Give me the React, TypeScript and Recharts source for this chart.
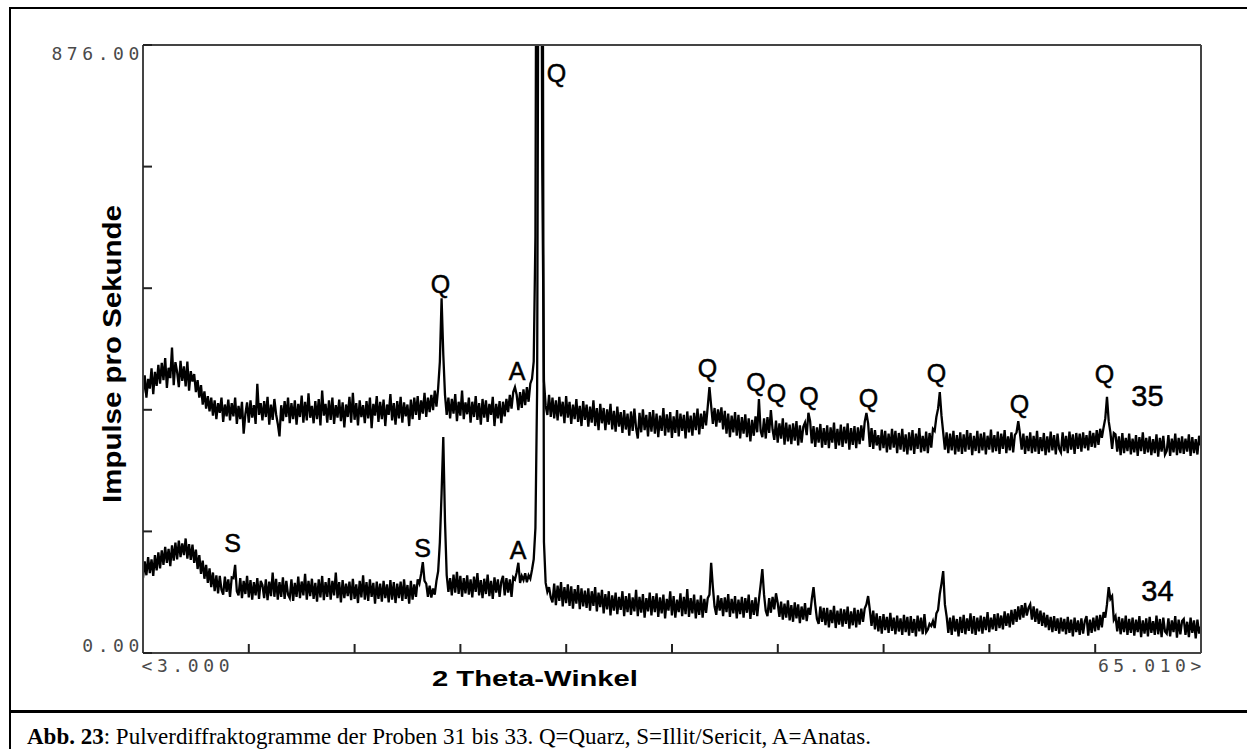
import React from 'react';
import { LineChart, Line, XAxis, YAxis, ReferenceDot } from 'recharts';

// 2-theta grid of the scan (degrees): 3.0 ... 65.0 in 0.1 steps
const X_START = 3.0;
const X_STEP = 0.1;

// Sample 35 (upper trace), counts per second; one row per degree
const sample35 = [
  374, 400, 368, 395, 381, 410, 373, 405, 385, 415,
  388, 418, 393, 425, 382, 411, 396, 440, 386, 419,
  405, 383, 421, 392, 413, 384, 420, 378, 406, 391,
  402, 376, 393, 368, 386, 358, 377, 352, 370, 348,
  368, 342, 364, 337, 360, 346, 368, 333, 358, 341,
  365, 335, 360, 341, 368, 330, 356, 337, 362, 316,
  344, 361, 332, 364, 339, 357, 330, 388, 343, 360,
  335, 363, 340, 369, 329, 358, 336, 366, 344, 330,
  312, 357, 334, 363, 340, 368, 331, 360, 337, 364,
  329, 359, 340, 371, 332, 362, 335, 374, 339, 356,
  331, 363, 337, 366, 328, 378, 342, 359, 332, 364,
  336, 368, 330, 357, 339, 365, 334, 361, 325, 358,
  340, 369, 332, 375, 336, 360, 328, 364, 340, 357,
  331, 363, 338, 368, 324, 359, 342, 370, 333, 362,
  337, 365, 327, 358, 343, 373, 335, 360, 329, 363,
  338, 369, 332, 361, 341, 358, 327, 365, 337, 368,
  343, 370, 336, 364, 345, 375, 340, 368, 347, 372,
  350, 378, 355, 382, 420, 511, 430, 372, 343, 368,
  338, 366, 345, 373, 334, 362, 342, 378, 337, 361,
  344, 368, 332, 362, 340, 370, 336, 360, 329, 366,
  339, 364, 333, 359, 343, 369, 327, 359, 338, 363,
  331, 362, 341, 366, 347, 372, 352, 376, 383, 372,
  350, 376, 353, 380, 357, 383, 362, 388, 395, 420,
  600, 1500, 1500, 1500, 700, 392, 356, 343, 372, 340,
  368, 338, 364, 335, 369, 341, 362, 331, 370, 339,
  362, 330, 358, 337, 366, 333, 356, 327, 363, 336,
  358, 326, 355, 332, 364, 327, 353, 321, 359, 331,
  353, 321, 351, 329, 359, 322, 349, 319, 355, 326,
  347, 317, 350, 322, 345, 313, 348, 320, 352, 324,
  309, 346, 318, 351, 321, 343, 312, 347, 319, 350,
  316, 345, 311, 342, 320, 353, 313, 344, 318, 347,
  310, 341, 317, 350, 312, 345, 320, 343, 309, 348,
  318, 342, 313, 346, 321, 352, 315, 345, 323, 349,
  328, 355, 383, 356, 330, 353, 326, 351, 332, 354,
  322, 349, 316, 345, 311, 342, 318, 347, 313, 343,
  309, 340, 316, 344, 311, 338, 305, 336, 313, 341,
  318, 366, 320, 311, 338, 309, 340, 317, 350, 322,
  307, 335, 303, 331, 309, 338, 300, 332, 305, 329,
  301, 331, 306, 334, 299, 328, 303, 326, 332, 314,
  346, 334, 302, 327, 297, 325, 303, 330, 296, 324,
  300, 328, 295, 325, 303, 332, 294, 323, 299, 329,
  297, 326, 302, 331, 293, 324, 300, 327, 295, 325,
  301, 328, 306, 333, 346, 331, 297, 324, 294, 321,
  299, 314, 292, 322, 295, 320, 289, 316, 293, 323,
  296, 320, 288, 317, 293, 323, 290, 315, 286, 318,
  292, 321, 287, 316, 294, 324, 289, 313, 291, 319,
  288, 317, 296, 323, 320, 340, 352, 376, 342, 318,
  293, 318, 288, 316, 292, 320, 286, 314, 290, 318,
  287, 315, 290, 321, 293, 317, 285, 313, 291, 320,
  288, 316, 292, 318, 286, 313, 293, 322, 289, 314,
  291, 319, 287, 316, 294, 321, 288, 312, 292, 318,
  289, 314, 318, 334, 316, 293, 316, 287, 313, 291,
  318, 288, 313, 290, 320, 287, 311, 291, 317, 285,
  312, 289, 319, 292, 314, 286, 316, 294, 289, 318,
  291, 313, 288, 319, 293, 315, 287, 317, 294, 316,
  290, 318, 295, 314, 292, 320, 297, 317, 296, 321,
  300, 323, 310, 325, 338, 369, 334, 318, 294, 317,
  315, 290, 312, 285, 317, 288, 310, 291, 316, 286,
  309, 289, 314, 284, 311, 291, 318, 287, 310, 289,
  312, 285, 308, 288, 315, 283, 310, 290, 313, 286,
  291, 314, 284, 309, 289, 316, 285, 310, 288, 312,
  287, 309, 290, 315, 284, 311, 288, 308, 286, 313,
  299,
];

// Sample 34 (lower trace), counts per second; one row per degree
const sample34 = [
  108, 132, 112, 138, 115, 135, 111, 141, 119, 145,
  122, 148, 127, 153, 130, 150, 125, 155, 133, 159,
  135, 162, 138, 158, 141, 165, 136, 157, 134, 156,
  130, 149, 121, 141, 114, 133, 107, 127, 101, 122,
  95, 116, 89, 112, 86, 111, 91, 84, 110, 88,
  106, 81, 109, 108, 127, 89, 83, 108, 79, 104,
  85, 111, 80, 105, 77, 102, 83, 108, 78, 104,
  98, 79, 106, 76, 103, 82, 116, 81, 107, 77,
  102, 81, 109, 78, 104, 84, 79, 106, 75, 101,
  81, 110, 79, 103, 83, 114, 77, 104, 82, 107,
  78, 101, 74, 106, 80, 111, 76, 102, 81, 108,
  77, 104, 83, 116, 79, 102, 73, 105, 79, 100,
  82, 103, 76, 107, 78, 99, 72, 104, 80, 112,
  77, 102, 75, 106, 81, 101, 71, 103, 78, 100,
  74, 104, 79, 99, 73, 105, 77, 102, 72, 100,
  79, 103, 75, 106, 78, 98, 71, 104, 77, 99,
  81, 106, 100, 114, 131, 104, 100, 81, 97, 80,
  93, 84, 104, 118, 160, 230, 311, 190, 112, 88,
  108, 83, 113, 87, 117, 85, 111, 81, 108, 86,
  112, 84, 106, 80, 110, 88, 115, 83, 105, 79,
  107, 85, 113, 82, 104, 78, 109, 87, 106, 81,
  103, 111, 83, 108, 87, 106, 81, 109, 106, 116,
  130, 101, 111, 105, 115, 102, 112, 107, 120, 135,
  180, 380, 1300, 1500, 1400, 160, 101, 88, 95, 80,
  73, 100, 69, 97, 75, 102, 67, 95, 72, 99,
  68, 96, 64, 92, 71, 98, 63, 93, 67, 90,
  65, 93, 61, 89, 68, 95, 60, 87, 66, 91,
  57, 85, 63, 89, 54, 83, 61, 87, 56, 81,
  62, 89, 53, 82, 59, 86, 55, 80, 60, 91,
  53, 81, 58, 85, 51, 79, 60, 87, 54, 82,
  59, 86, 52, 80, 57, 84, 50, 78, 61, 89,
  54, 82, 51, 77, 59, 86, 53, 81, 56, 92,
  52, 79, 57, 84, 50, 77, 55, 83, 51, 78,
  58, 79, 84, 130, 95, 67, 55, 83, 61, 79,
  53, 80, 59, 85, 52, 78, 57, 82, 50, 77,
  56, 81, 51, 79, 58, 84, 49, 76, 55, 80,
  53, 77, 98, 121, 84, 61, 53, 79, 58, 81,
  63, 86, 72, 52, 74, 48, 71, 51, 76, 47,
  69, 45, 73, 50, 70, 43, 67, 48, 72, 46,
  65, 55, 78, 95, 70, 49, 42, 67, 45, 65,
  40, 65, 37, 62, 43, 68, 36, 61, 41, 64,
  38, 63, 42, 67, 35, 60, 40, 65, 37, 62,
  41, 64, 45, 64, 70, 82, 62, 39, 61, 34,
  57, 31, 53, 28, 56, 33, 52, 29, 58, 32,
  51, 27, 54, 31, 50, 26, 55, 30, 52, 25,
  53, 29, 49, 24, 54, 31, 51, 27, 56, 30,
  34, 42, 39, 46, 36, 57, 62, 85, 100, 118,
  70, 53, 29, 51, 26, 54, 31, 49, 24, 52,
  29, 55, 27, 50, 32, 57, 28, 53, 26, 51,
  31, 54, 28, 52, 33, 59, 30, 51, 34, 56,
  32, 57, 36, 54, 34, 60, 39, 57, 37, 62,
  41, 63, 45, 67, 48, 69, 51, 72, 54, 65,
  70, 48, 67, 45, 64, 42, 61, 39, 58, 37,
  55, 33, 52, 30, 53, 32, 50, 28, 51, 31,
  49, 27, 52, 29, 48, 24, 51, 30, 47, 26,
  50, 28, 46, 53, 25, 48, 29, 51, 31, 54,
  33, 55, 37, 59, 51, 70, 95, 78, 82, 48,
  53, 31, 52, 27, 50, 30, 54, 26, 49, 29,
  51, 25, 48, 30, 53, 23, 47, 28, 50, 24,
  52, 29, 46, 26, 54, 27, 49, 23, 51, 31,
  28, 50, 24, 47, 30, 53, 22, 48, 27, 46,
  49, 26, 45, 23, 51, 29, 47, 21, 48, 28,
  38,
];

const X_MIN = 3.0;
const X_MAX = 65.01;
const Y_MIN = 0;
const Y_MAX = 876;
const xTicks = [3, 9.201, 15.402, 21.603, 27.804, 34.005, 40.206, 46.407, 52.608, 58.809, 65.01];
const yTicks = [0, 175.2, 350.4, 525.6, 700.8, 876];
const xEndLabels = ['<3.000', '65.010>'];
const yEndLabels = ['0.00', '876.00'];

// Peak annotations (2-theta, cps, text)
const peakLabels35 = [
  { x: 20.44, y: 532, t: 'Q' },
  { x: 24.92, y: 406, t: 'A' },
  { x: 27.24, y: 836, t: 'Q' },
  { x: 36.09, y: 410, t: 'Q' },
  { x: 38.93, y: 391, t: 'Q' },
  { x: 40.13, y: 375, t: 'Q' },
  { x: 42.03, y: 370, t: 'Q' },
  { x: 45.52, y: 367, t: 'Q' },
  { x: 49.51, y: 403, t: 'Q' },
  { x: 54.37, y: 359, t: 'Q' },
  { x: 59.35, y: 402, t: 'Q' },
];
const peakLabels34 = [
  { x: 8.25, y: 158, t: 'S' },
  { x: 19.38, y: 152, t: 'S' },
  { x: 24.98, y: 149, t: 'A' },
];
const seriesNames = [
  { x: 61.87, y: 370, t: '35' },
  { x: 62.46, y: 89, t: '34' },
];

const data = sample35.map((v, i) => ({
  deg: Math.round((X_START + i * X_STEP) * 100) / 100,
  s35: v,
  s34: sample34[i],
}));

const monoFont = "'DejaVu Sans Mono', monospace";
const sansFont = "'Liberation Sans', Arial, sans-serif";
const tickTextStyle = { fontFamily: monoFont, fontSize: 18, letterSpacing: 4.6, fill: '#4a4a4a' };

const renderBottomTick = (props: any) => {
  const { x, y, payload } = props;
  const base = y + 11;
  if (payload.value === X_MIN) {
    return <text x={x - 1.5} y={base + 19} {...tickTextStyle} textAnchor="start">{xEndLabels[0]}</text>;
  }
  if (payload.value === X_MAX) {
    return <text x={x + 5} y={base + 19} {...tickTextStyle} textAnchor="end">{xEndLabels[1]}</text>;
  }
  return <g />;
};

const renderLeftTick = (props: any) => {
  const { x, y, payload } = props;
  const left = x - 11;
  if (payload.value === Y_MIN) {
    return <text x={left + 1} y={y - 1} {...tickTextStyle} textAnchor="end">{yEndLabels[0]}</text>;
  }
  if (payload.value === Y_MAX) {
    return <text x={left + 1} y={y + 14.5} {...tickTextStyle} textAnchor="end">{yEndLabels[1]}</text>;
  }
  return <g />;
};

const makeLabel = (t: string, size: number) => (p: any) => (
  <text x={p.cx} y={p.cy} fontFamily={sansFont} fontSize={size} fill="#000" stroke="#000" strokeWidth={0.5}
    textAnchor="middle" dominantBaseline="central">
    {t}
  </text>
);

export default function App() {
  const axisLine = { stroke: '#444', strokeWidth: 2 };
  const tickLine = { stroke: '#222', strokeWidth: 2 };
  return (
    <div style={{ position: 'absolute', left: 0, top: 0, width: 1247, height: 749, background: '#fff', overflow: 'hidden' }}>
      <LineChart
        width={1247}
        height={749}
        data={data}
        margin={{ top: 45, right: 46, bottom: 96, left: 143 }}
        style={{ position: 'absolute', left: 0, top: 0 }}
      >
        <XAxis xAxisId="b" dataKey="deg" type="number" domain={[X_MIN, X_MAX]} ticks={xTicks} interval={0}
          orientation="bottom" mirror tickSize={9} axisLine={axisLine} tickLine={tickLine} tick={renderBottomTick} allowDataOverflow />
        <XAxis xAxisId="t" dataKey="deg" type="number" domain={[X_MIN, X_MAX]} ticks={xTicks} interval={0}
          orientation="top" mirror tickSize={9} axisLine={axisLine} tickLine={tickLine} tick={false} allowDataOverflow />
        <YAxis yAxisId="l" type="number" domain={[Y_MIN, Y_MAX]} ticks={yTicks} interval={0}
          orientation="left" mirror tickSize={9} axisLine={axisLine} tickLine={tickLine} tick={renderLeftTick} allowDataOverflow />
        <YAxis yAxisId="r" type="number" domain={[Y_MIN, Y_MAX]} ticks={yTicks} interval={0}
          orientation="right" mirror tickSize={9} axisLine={axisLine} tickLine={tickLine} tick={false} allowDataOverflow />
        <Line xAxisId="b" yAxisId="l" type="linear" dataKey="s34" stroke="#000" strokeWidth={2.3} dot={false} isAnimationActive={false} />
        <Line xAxisId="b" yAxisId="l" type="linear" dataKey="s35" stroke="#000" strokeWidth={2.3} dot={false} isAnimationActive={false} />
        {[...peakLabels35, ...peakLabels34].map((l, i) => (
          <ReferenceDot key={'p' + i} xAxisId="b" yAxisId="l" x={l.x} y={l.y} r={0} ifOverflow="visible" shape={makeLabel(l.t, 25)} />
        ))}
        {seriesNames.map((l, i) => (
          <ReferenceDot key={'s' + i} xAxisId="b" yAxisId="l" x={l.x} y={l.y} r={0} ifOverflow="visible" shape={makeLabel(l.t, 29)} />
        ))}
      </LineChart>
      <svg width={1247} height={749} style={{ position: 'absolute', left: 0, top: 0, pointerEvents: 'none' }}>
        <line x1={10} y1={8} x2={1247} y2={8} stroke="#000" strokeWidth={2} />
        <line x1={10} y1={7} x2={10} y2={749} stroke="#000" strokeWidth={2} />
        <line x1={9} y1={711.5} x2={1247} y2={711.5} stroke="#000" strokeWidth={3} />
        <text transform="translate(120.7,354) rotate(-90)" fontFamily={sansFont} fontSize={26} fontWeight="bold"
          textAnchor="middle" textLength={298} lengthAdjust="spacingAndGlyphs">Impulse pro Sekunde</text>
        <text x={535} y={686} fontFamily={sansFont} fontSize={22} fontWeight="bold" textAnchor="middle"
          textLength={206} lengthAdjust="spacingAndGlyphs">2 Theta-Winkel</text>
        <text x={27} y={744} fontFamily="'Liberation Serif', 'Times New Roman', serif" fontSize={23} fill="#000">
          <tspan fontWeight="bold">Abb. 23</tspan>
          <tspan>: Pulverdiffraktogramme der Proben 31 bis 33. Q=Quarz, S=Illit/Sericit, A=Anatas.</tspan>
        </text>
      </svg>
    </div>
  );
}
